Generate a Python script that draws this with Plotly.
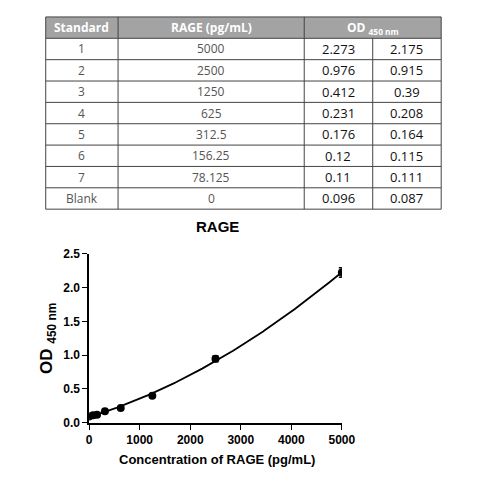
import numpy as np
import plotly.graph_objects as go

standards = ["1", "2", "3", "4", "5", "6", "7", "Blank"]
conc_labels = ["5000", "2500", "1250", "625", "312.5", "156.25", "78.125", "0"]
conc = [5000, 2500, 1250, 625, 312.5, 156.25, 78.125, 0]
od1 = [2.273, 0.976, 0.412, 0.231, 0.176, 0.12, 0.11, 0.096]
od2 = [2.175, 0.915, 0.39, 0.208, 0.164, 0.115, 0.111, 0.087]
od1_labels = ["2.273", "0.976", "0.412", "0.231", "0.176", "0.12", "0.11", "0.096"]
od2_labels = ["2.175", "0.915", "0.39", "0.208", "0.164", "0.115", "0.111", "0.087"]

x = np.array(conc, float)
y1 = np.array(od1); y2 = np.array(od2)
mean = (y1 + y2) / 2
sd = np.abs(y1 - y2) / np.sqrt(2)
coef = np.polyfit(np.concatenate([x, x]), np.concatenate([y1, y2]), 2)
xs = np.linspace(0, 5000, 200)
ys = np.polyval(coef, xs)

fig = go.Figure()
fig.add_trace(go.Scatter(x=xs, y=ys, mode="lines", line=dict(color="black", width=1.8), hoverinfo="skip"))
fig.add_trace(go.Scatter(x=x, y=mean, mode="markers",
                         marker=dict(color="black", size=8),
                         error_y=dict(type="data", array=sd, color="black", thickness=1.5, width=3)))

shapes = []
ann = []
tx0, tx1 = 36, 446
cols = [36, 111, 304, 375, 446]
top, hh, rh = 2, 22, 22
shapes.append(dict(type="rect", xref="x2", yref="y2", x0=tx0, x1=tx1, y0=top, y1=top + hh,
                   fillcolor="#a3a3a3", line=dict(width=0), layer="below"))
nrows = len(standards)
bottom = top + hh + rh * nrows
for i in range(nrows + 2):
    yy = top + (hh + rh * (i - 1) if i > 0 else 0)
    shapes.append(dict(type="line", xref="x2", yref="y2", x0=tx0, x1=tx1, y0=yy, y1=yy,
                       line=dict(color="#444", width=1)))
for j, cx in enumerate(cols):
    y0 = top if j != 3 else top + hh
    shapes.append(dict(type="line", xref="x2", yref="y2", x0=cx, x1=cx, y0=y0, y1=bottom,
                       line=dict(color="#444", width=1)))
hdr = [("<b>Standard</b>", (cols[0] + cols[1]) / 2), ("<b>RAGE (pg/mL)</b>", (cols[1] + cols[2]) / 2),
       ("<b>OD <sub>450 nm</sub></b>", (cols[2] + cols[4]) / 2)]
for t, cx in hdr:
    ann.append(dict(xref="x2", yref="y2", x=cx, y=top + hh / 2, text=t, showarrow=False,
                    font=dict(family="Open Sans", size=12, color="white")))
for i in range(nrows):
    cy = top + hh + rh * i + rh / 2
    for j, (txt, colr, sz) in enumerate([(standards[i], "#555", 12), (conc_labels[i], "#555", 12),
                                         (od1_labels[i], "#111", 13), (od2_labels[i], "#111", 13)]):
        ann.append(dict(xref="x2", yref="y2", x=(cols[j] + cols[j + 1]) / 2, y=cy, text=txt,
                        showarrow=False, font=dict(family="Open Sans", size=sz, color=colr)))

ann.append(dict(xref="paper", yref="paper", x=214 / 480, y=1 - 218 / 480, text="<b>RAGE</b>",
                showarrow=False, font=dict(family="Liberation Sans", size=15, color="black")))
ann.append(dict(xref="paper", yref="paper", x=214 / 480, y=1 - 468 / 480,
                text="<b>Concentration of RAGE (pg/mL)</b>", showarrow=False,
                font=dict(family="Liberation Sans", size=13, color="black")))

fig.update_layout(
    width=480, height=480, margin=dict(l=0, r=0, t=0, b=0),
    paper_bgcolor="white", plot_bgcolor="rgba(0,0,0,0)", showlegend=False,
    shapes=shapes, annotations=ann,
    xaxis=dict(domain=[81 / 480, 343 / 480], range=[0, 5000], tickvals=[0, 1000, 2000, 3000, 4000, 5000],
               showline=True, linecolor="black", linewidth=1.5, ticks="outside", ticklen=5,
               tickcolor="black", showgrid=False, zeroline=False, anchor="y",
               tickfont=dict(family="Liberation Sans", size=12, color="black", weight="bold")),
    yaxis=dict(domain=[1 - 420 / 480, 1 - 246 / 480], range=[0, 2.5], tickvals=[0, 0.5, 1, 1.5, 2, 2.5],
               tickformat=".1f", showline=True, linecolor="black", linewidth=1.5, ticks="outside",
               ticklen=5, tickcolor="black", showgrid=False, zeroline=False, anchor="x",
               tickfont=dict(family="Liberation Sans", size=12, color="black", weight="bold"),
               title=dict(text="<b>OD <sub>450 nm</sub></b>", standoff=6,
                          font=dict(family="Liberation Sans", size=17, color="black"))),
    xaxis2=dict(domain=[0, 1], range=[0, 480], visible=False, anchor="y2"),
    yaxis2=dict(domain=[0, 1], range=[480, 0], visible=False, anchor="x2"),
)
fig.write_html("out.html")
